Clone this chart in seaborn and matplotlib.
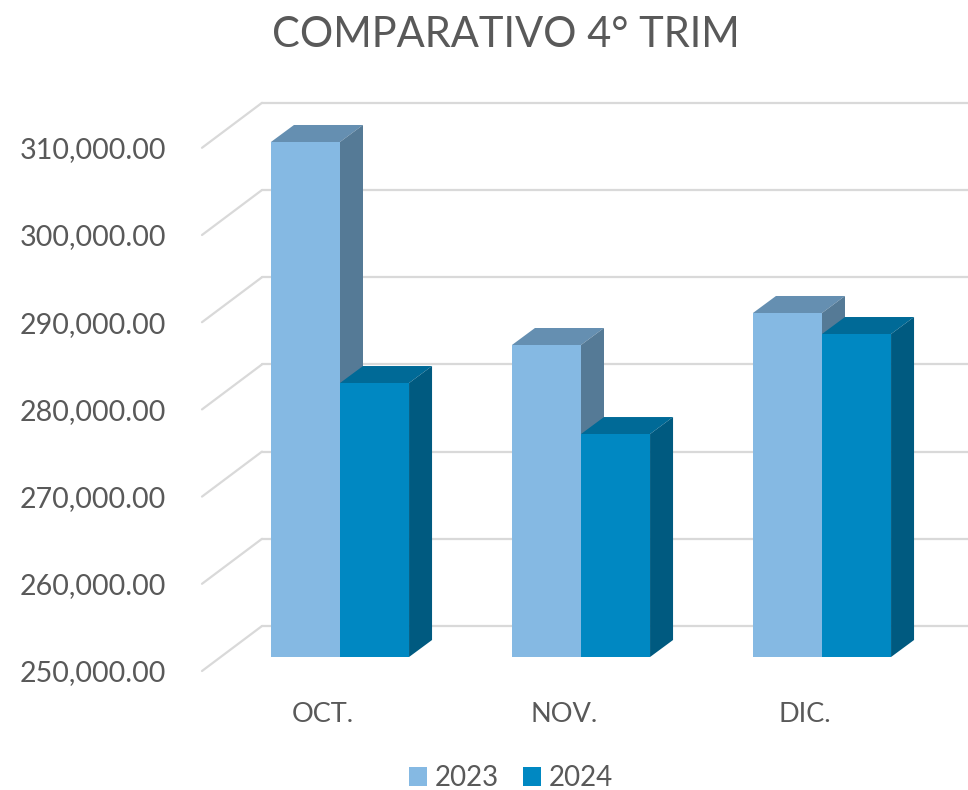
import matplotlib
matplotlib.use('Agg')
import matplotlib.pyplot as plt
from matplotlib.patches import Patch, Polygon
from matplotlib.transforms import ScaledTranslation
import pandas as pd
import seaborn as sns

months = ['OCT.', 'NOV.', 'DIC.']
years = ['2023', '2024']
values_2023 = [309060, 285780, 289450]
values_2024 = [281420, 275570, 287040]
ticks = [250000, 260000, 270000, 280000, 290000, 300000, 310000]

colors = {'2023': '#85B9E3', '2024': '#0088C2'}
top_colors = {'2023': '#658FB1', '2024': '#006A97'}
side_colors = {'2023': '#557A96', '2024': '#005A80'}
grid_color = '#D9D9D9'
text_color = '#595959'

df = pd.DataFrame({
    'Mes': months * 2,
    'Anio': ['2023'] * 3 + ['2024'] * 3,
    'Valor': values_2023 + values_2024,
})

sns.set_theme(style='white')
plt.rcParams['font.family'] = ['Lato', 'DejaVu Sans']

W, H = 968, 790
fig = plt.figure(figsize=(W / 100, H / 100), dpi=100)

# axes = plane of the bar fronts, everything 3D is offset from it in pixels
left, right, bottom, top = 219, 968, 657, 90
ax = fig.add_axes([left / W, 1 - bottom / H, (right - left) / W, (bottom - top) / H])

sns.barplot(data=df, x='Mes', y='Valor', hue='Anio', order=months, hue_order=years,
            palette=colors, width=0.573, dodge=True, saturation=1, legend=False,
            linewidth=0, ax=ax, zorder=3)

px_x = 241  # pixels per category
px_y = 87.2  # pixels per 10000
ax.set_xlim(-(340 - left) / px_x, (right - 340) / px_x)
ax.set_ylim(250000, 250000 + (bottom - top) / px_y * 10000)


def shift(x, y, dx, dy):
    return x + dx / px_x, y + dy / px_y * 10000


# back wall gridlines and floor/side diagonals
for t in ticks:
    x0, y0 = ax.get_xlim()[0], t
    a = shift(x0, y0, -17, -14)
    b = shift(x0, y0, 43, 31)
    ax.plot([a[0], b[0]], [a[1], b[1]], color=grid_color, lw=1.6, clip_on=False, zorder=1)
    ax.plot([b[0], ax.get_xlim()[1]], [b[1], b[1]], color=grid_color, lw=1.6, clip_on=False, zorder=1)

# depth faces of each bar, drawn from the seaborn bars
depth = (23, 17)
base = ax.get_ylim()[0]
bars = [p for p in ax.patches if p.get_height() > 0]
for bar, year in zip(bars, df['Anio']):
    x0, w, h = bar.get_x(), bar.get_width(), bar.get_height()
    x1, y1 = x0 + w, bar.get_y() + h
    top_face = [(x0, y1), (x1, y1), shift(x1, y1, *depth), shift(x0, y1, *depth)]
    side_face = [(x1, base), (x1, y1), shift(x1, y1, *depth), shift(x1, base, *depth)]
    order = 2 if year == '2023' else 2.5
    ax.add_patch(Polygon(top_face, closed=True, fc=top_colors[year], ec='none', zorder=order, clip_on=False))
    ax.add_patch(Polygon(side_face, closed=True, fc=side_colors[year], ec='none', zorder=order, clip_on=False))
    bar.set_zorder(order + 0.1)

for s in ax.spines.values():
    s.set_visible(False)
ax.set_xlabel('')
ax.set_ylabel('')
ax.set_yticks(ticks)
ax.set_yticklabels([f'{t:,.2f}' for t in ticks])
ax.tick_params(axis='y', length=0, pad=38, labelsize=20.6, labelcolor=text_color)
ax.tick_params(axis='x', length=0, pad=32.5, labelsize=19.5, labelcolor=text_color)

# tick labels sit on the front edge of the box, below the bar plane
down = ScaledTranslation(0, -14 / 100, fig.dpi_scale_trans)
for lab in ax.get_yticklabels():
    lab.set_transform(lab.get_transform() + down)
back = ScaledTranslation(-17 / 100, 0, fig.dpi_scale_trans)
for lab in ax.get_xticklabels():
    lab.set_transform(lab.get_transform() + back)

fig.text(506 / W, 1 - 35 / H, 'COMPARATIVO 4° TRIM', ha='center', va='center',
         fontsize=30, color=text_color)

handles = [Patch(fc=colors[y], ec='none') for y in years]
fig.legend(handles, years, loc='center', bbox_to_anchor=(511 / W, 1 - 778 / H), ncol=2,
           frameon=False, fontsize=20, labelcolor=text_color, handlelength=0.65,
           handleheight=0.65, handletextpad=0.3, columnspacing=0.85)

fig.savefig('out.png', dpi=100)
